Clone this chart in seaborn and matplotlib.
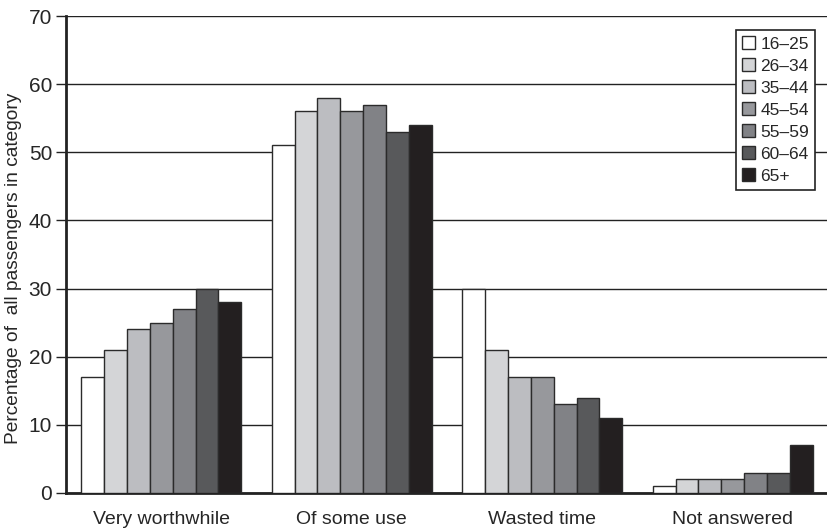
import matplotlib
matplotlib.use('Agg')
import matplotlib.pyplot as plt
import numpy as np
import pandas as pd
import seaborn as sns

# data
categories = ['Very worthwhile', 'Of some use', 'Wasted time', 'Not answered']
ages = ['16–25', '26–34', '35–44', '45–54', '55–59', '60–64', '65+']
values = {
    '16–25': [17, 51, 30, 1],
    '26–34': [21, 56, 21, 2],
    '35–44': [24, 58, 17, 2],
    '45–54': [25, 56, 17, 2],
    '55–59': [27, 57, 13, 3],
    '60–64': [30, 53, 14, 3],
    '65+':   [28, 54, 11, 7],
}
colors = ['#ffffff', '#d4d5d7', '#bcbdc1', '#97989c', '#818286', '#58595b', '#231f20']

rows = []
for a in ages:
    for c, v in zip(categories, values[a]):
        rows.append({'category': c, 'age': a, 'pct': v})
df = pd.DataFrame(rows)

sns.set_style('white')
plt.rcParams['font.family'] = ['Liberation Sans', 'DejaVu Sans']

fig = plt.figure(figsize=(8.28, 5.32), dpi=100)
ax = fig.add_axes([66 / 828, 39 / 532, 1 - 66 / 828, (493 - 16) / 532])

sns.barplot(data=df, x='category', y='pct', hue='age', hue_order=ages, order=categories,
            palette=colors, width=0.84, edgecolor='#2b2b2b', linewidth=1.0,
            saturation=1, errorbar=None, ax=ax, zorder=3)

ax.set_ylim(0, 70)
ax.set_xlim(-0.5, 3.5)
ax.set_yticks(np.arange(0, 71, 10))
ax.yaxis.grid(True, color='#222222', linewidth=1.0)
ax.set_axisbelow(True)

ax.set_xticks(range(len(categories)))
ax.set_xticklabels(categories, fontsize=14)
ax.set_xticks([-0.5, 0.5, 1.5, 2.5, 3.5], minor=True)
ax.tick_params(axis='x', which='major', length=0, pad=13)
ax.tick_params(axis='x', which='minor', length=6, width=1, color='#222222', direction='out')
ax.tick_params(axis='y', length=7, width=1, color='#222222', direction='out', labelsize=15, left=True, pad=3)

ax.set_xlabel('')
ax.set_ylabel('Percentage of  all passengers in category', fontsize=13.8)
ax.yaxis.set_label_coords(-0.058, 0.47)

for s in ['top', 'right']:
    ax.spines[s].set_visible(False)
for s in ['left', 'bottom']:
    ax.spines[s].set_color('#222222')
    ax.spines[s].set_linewidth(2)

leg = ax.legend(loc='upper right', bbox_to_anchor=(0.983, 0.97), fontsize=12.5,
                frameon=True, fancybox=False, edgecolor='#222222', framealpha=1,
                handlelength=0.75, handleheight=0.75, handletextpad=0.3,
                labelspacing=0.38, borderpad=0.35, borderaxespad=0, title=None)
leg.get_frame().set_linewidth(1.2)

fig.savefig('out.png', dpi=100)
